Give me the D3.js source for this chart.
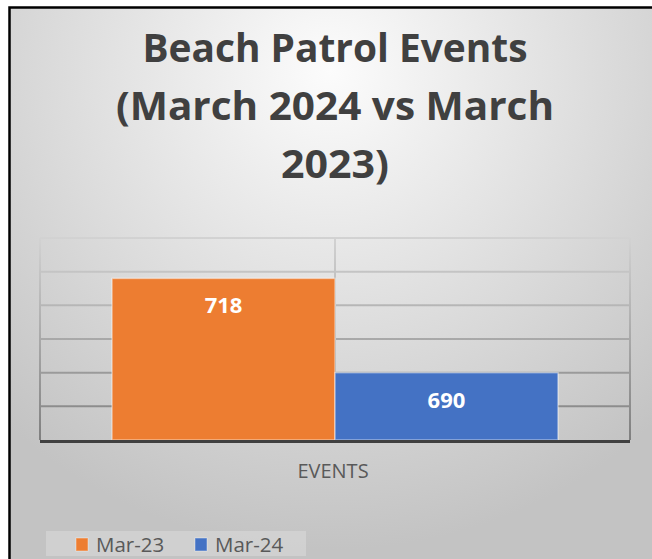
<!DOCTYPE html>
<html>
<head>
<meta charset="utf-8">
<script src="https://cdn.jsdelivr.net/npm/d3@7"></script>
<style>
  html, body { margin: 0; padding: 0; background: #fff; }
  svg { display: block; }
</style>
</head>
<body>
<div id="chart-area"></div>
<script>
// data
var titleLines = ["Beach Patrol Events", "(March 2024 vs March", "2023)"];
var categories = ["EVENTS"];
var seriesNames = ["Mar-23", "Mar-24"];
var seriesValues = [718, 690];
var yTicks = [670, 680, 690, 700, 710, 720, 730];
var seriesColors = ["#ED7D31", "#4472C4"];

var W = 652, H = 559;
var plot = { left: 40, right: 630, top: 238, bottom: 440 };

var svg = d3.select("#chart-area")
    .append("svg")
        .attr("width", W)
        .attr("height", H);

var defs = svg.append("defs");

// background gradient, light at top centre
var bg = defs.append("radialGradient")
    .attr("id", "bg")
    .attr("gradientUnits", "userSpaceOnUse")
    .attr("cx", 330).attr("cy", 70).attr("r", 480);
bg.append("stop").attr("offset", 0).attr("stop-color", "#fcfcfc");
bg.append("stop").attr("offset", 1).attr("stop-color", "#c3c3c3");

// gridlines get darker towards the axis
var gg = defs.append("linearGradient")
    .attr("id", "grid")
    .attr("gradientUnits", "userSpaceOnUse")
    .attr("x1", 0).attr("y1", plot.top).attr("x2", 0).attr("y2", plot.bottom);
gg.append("stop").attr("offset", 0).attr("stop-color", "#d2d2d2");
gg.append("stop").attr("offset", 1).attr("stop-color", "#7f7f7f");

svg.append("rect")
    .attr("x", 9.5).attr("y", 7.5)
    .attr("width", W + 20).attr("height", H + 20)
    .attr("fill", "url(#bg)")
    .attr("stroke", "#000")
    .attr("stroke-width", 2.5);

// Title
var title = svg.append("g")
    .attr("font-family", "'Open Sans', sans-serif")
    .attr("font-weight", "bold")
    .attr("font-size", "40px")
    .attr("fill", "#404040")
    .attr("text-anchor", "middle");
var titleWidths = [385, 438, 108];
titleLines.forEach(function(t, i) {
    title.append("text")
        .attr("x", 335)
        .attr("y", 62 + i * 58)
        .attr("textLength", titleWidths[i])
        .attr("lengthAdjust", "spacingAndGlyphs")
        .text(t);
});

// Scales
var y = d3.scaleLinear()
    .domain([670, 730])
    .range([plot.bottom, plot.top]);
var x0 = d3.scaleBand()
    .domain(categories)
    .range([plot.left, plot.right])
    .paddingInner(0)
    .paddingOuter(0.1615);
var x1 = d3.scaleBand()
    .domain(seriesNames)
    .range([0, x0.bandwidth()]);
var color = d3.scaleOrdinal().domain(seriesNames).range(seriesColors);

// Gridlines
var grid = svg.append("g").attr("stroke", "url(#grid)");
yTicks.forEach(function(t) {
    if (t === 670) return;
    grid.append("line")
        .attr("x1", plot.left).attr("x2", plot.right)
        .attr("y1", y(t)).attr("y2", y(t))
        .attr("stroke-width", 2);
});
var vLines = [plot.left, x0(categories[0]) + x0.bandwidth() / 2, plot.right];
vLines.forEach(function(v) {
    grid.append("line")
        .attr("x1", v).attr("x2", v)
        .attr("y1", plot.top).attr("y2", plot.bottom)
        .attr("stroke-width", 2);
});

// Bars
var bars = svg.append("g");
var barData = seriesNames.map(function(s, i) {
    return { series: s, value: seriesValues[i], cat: categories[0] };
});
bars.selectAll("rect")
    .data(barData)
    .enter()
    .append("rect")
        .attr("x", function(d) { return x0(d.cat) + x1(d.series); })
        .attr("y", function(d) { return y(d.value); })
        .attr("width", x1.bandwidth())
        .attr("height", function(d) { return y(670) - y(d.value); })
        .attr("fill", function(d) { return color(d.series); })
        .attr("stroke", "rgba(255,255,255,0.45)")
        .attr("stroke-width", 1.5);

bars.selectAll("text")
    .data(barData)
    .enter()
    .append("text")
        .attr("x", function(d) { return x0(d.cat) + x1(d.series) + x1.bandwidth() / 2; })
        .attr("y", function(d) { return y(d.value) + 35; })
        .attr("text-anchor", "middle")
        .attr("font-family", "'Open Sans', sans-serif")
        .attr("font-weight", "bold")
        .attr("font-size", "22px")
        .attr("fill", "#fff")
        .text(function(d) { return d.value; });

// X Axis
var xAxisCall = d3.axisBottom(x0).tickSize(0).tickPadding(0);
var xAxis = svg.append("g")
    .attr("transform", "translate(0," + plot.bottom + ")")
    .call(xAxisCall);
xAxis.select(".domain")
    .attr("d", "M" + plot.left + ",1.5H" + plot.right)
    .attr("stroke", "#404040")
    .attr("stroke-width", 3);
xAxis.selectAll(".tick text")
    .attr("y", 38)
    .attr("dy", 0)
    .attr("font-family", "'Open Sans', sans-serif")
    .attr("font-size", "20px")
    .attr("fill", "#595959")
    .attr("transform", "translate(-2,0)");

// Legend
var legend = svg.append("g");
legend.append("rect")
    .attr("x", 46).attr("y", 531)
    .attr("width", 260).attr("height", 25)
    .attr("fill", "#fff")
    .attr("fill-opacity", 0.22);
var legendX = [76, 195];
seriesNames.forEach(function(s, i) {
    var row = legend.append("g")
        .attr("transform", "translate(" + legendX[i] + ",538)");
    row.append("rect")
        .attr("width", 12).attr("height", 13)
        .attr("fill", color(s))
        .attr("stroke", "rgba(255,255,255,0.4)");
    row.append("text")
        .attr("x", 20)
        .attr("y", 13.5)
        .attr("font-family", "'Open Sans', sans-serif")
        .attr("font-size", "20.5px")
        .attr("fill", "#595959")
        .text(s);
});
</script>
</body>
</html>
